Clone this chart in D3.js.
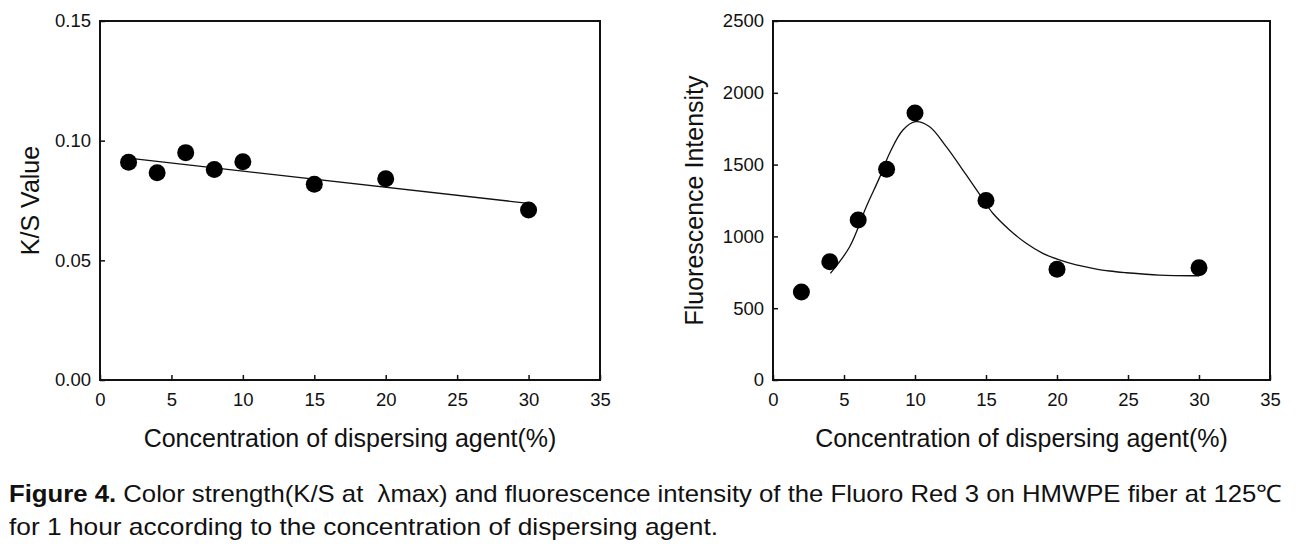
<!DOCTYPE html>
<html>
<head>
<meta charset="utf-8">
<script src="https://cdn.jsdelivr.net/npm/d3@7"></script>
<style>
  body { margin: 0; background: #fff; }
  text { font-family: "Liberation Sans", Arial, sans-serif; fill: #111; }
</style>
</head>
<body>
<div id="figure"></div>
<script>
// concentration of dispersing agent (%)
var conc = [2, 4, 6, 8, 10, 15, 20, 30];
// left panel: K/S value
var ksValue = [0.0910, 0.0866, 0.0950, 0.0880, 0.0912, 0.0818, 0.0841, 0.0710];
var ksFitX = [2, 30];
var ksFitY = [0.0927, 0.0738];
// right panel: fluorescence intensity
var fluo = [613, 823, 1115, 1467, 1860, 1250, 771, 781];
var fluoFitX = [4.04, 5.4, 6.57, 7.51, 8.21, 9.15, 10.04, 11.03, 12.2, 13.61, 14.66, 15.48, 16.66, 17.83, 19.0, 20.17, 21.35, 22.52, 23.7, 24.87, 26.04, 27.2, 30];
var fluoFitY = [743, 928, 1207, 1411, 1579, 1741, 1799, 1764, 1625, 1428, 1277, 1161, 1045, 952, 882, 836, 801, 778, 759, 747, 738, 731, 726];

var xTicks = [0, 5, 10, 15, 20, 25, 30, 35];
var ksTicks = [0, 0.05, 0.10, 0.15];
var fluoTicks = [0, 500, 1000, 1500, 2000, 2500];

var xTitle = "Concentration of dispersing agent(%)";
var captionBold = "Figure 4.";
var captionLine1 = " Color strength(K/S at  \u03bbmax) and fluorescence intensity of the Fluoro Red 3 on HMWPE fiber at 125\u2103";
var captionLine2 = "for 1 hour according to the concentration of dispersing agent.";

var svg = d3.select("#figure").append("svg")
    .attr("width", 1301)
    .attr("height", 547);

svg.append("rect").attr("width", 1301).attr("height", 547).attr("fill", "#fff");

function panel(box, yDomain, yTicks, yFmt, yTitle, yTitleX, ys, fitX, fitY) {
    var xScale = d3.scaleLinear().domain([0, 35]).range([box.left, box.right]);
    var yScale = d3.scaleLinear().domain(yDomain).range([box.bottom, box.top]);

    var g = svg.append("g");

    var xAxis = d3.axisBottom(xScale).tickValues(xTicks).tickSizeInner(-5).tickSizeOuter(0).tickPadding(13);
    var yAxis = d3.axisLeft(yScale).tickValues(yTicks).tickFormat(yFmt).tickSizeInner(-5).tickSizeOuter(0).tickPadding(9);

    g.append("g")
        .attr("transform", "translate(0," + box.bottom + ")")
        .call(xAxis);
    g.append("g")
        .attr("transform", "translate(" + box.left + ",0)")
        .call(yAxis);

    g.selectAll(".domain").remove();
    g.selectAll(".tick line").attr("stroke", "#111").attr("stroke-width", 1.5);
    g.selectAll(".tick text")
        .style("font-size", "18.5px")
        .style("font-family", "'Liberation Sans', Arial, sans-serif")
        .attr("fill", "#111");

    // frame
    g.append("rect")
        .attr("x", box.left)
        .attr("y", box.top)
        .attr("width", box.right - box.left)
        .attr("height", box.bottom - box.top)
        .attr("fill", "none")
        .attr("stroke", "#111")
        .attr("stroke-width", 2);

    // fitted line
    var fit = fitX.map((d, i) => [d, fitY[i]]);
    var line = d3.line()
        .x(d => xScale(d[0]))
        .y(d => yScale(d[1]))
        .curve(d3.curveCatmullRom.alpha(0.5));
    g.append("path")
        .attr("d", line(fit))
        .attr("fill", "none")
        .attr("stroke", "#111")
        .attr("stroke-width", 1.3);

    // points
    g.selectAll("circle.pt")
        .data(conc)
        .enter()
        .append("circle")
        .attr("class", "pt")
        .attr("cx", d => xScale(d))
        .attr("cy", (d, i) => yScale(ys[i]))
        .attr("r", 8.5)
        .attr("fill", "#000");

    // titles
    g.append("text")
        .attr("x", (box.left + box.right) / 2)
        .attr("y", 446.5)
        .attr("text-anchor", "middle")
        .style("font-size", "25px")
        .text(xTitle);

    g.append("text")
        .attr("transform", "translate(" + yTitleX + "," + (box.top + box.bottom) / 2 + ") rotate(-90)")
        .attr("text-anchor", "middle")
        .style("font-size", "25px")
        .text(yTitle);
}

panel({left: 100, right: 600, top: 21, bottom: 380}, [0, 0.15], ksTicks, d3.format(".2f"),
      "K/S Value", 39, ksValue, ksFitX, ksFitY);
panel({left: 773, right: 1270, top: 21, bottom: 380}, [0, 2500], fluoTicks, d3.format("d"),
      "Fluorescence Intensity", 703, fluo, fluoFitX, fluoFitY);

// caption
var cap = svg.append("text")
    .attr("x", 9)
    .attr("y", 502)
    .attr("textLength", 1273)
    .attr("lengthAdjust", "spacingAndGlyphs")
    .style("font-size", "24px");
cap.append("tspan").style("font-weight", "bold").text(captionBold);
cap.append("tspan").attr("xml:space", "preserve").text(captionLine1);

svg.append("text")
    .attr("x", 9)
    .attr("y", 535)
    .attr("textLength", 709)
    .attr("lengthAdjust", "spacingAndGlyphs")
    .style("font-size", "24px")
    .text(captionLine2);
</script>
</body>
</html>
